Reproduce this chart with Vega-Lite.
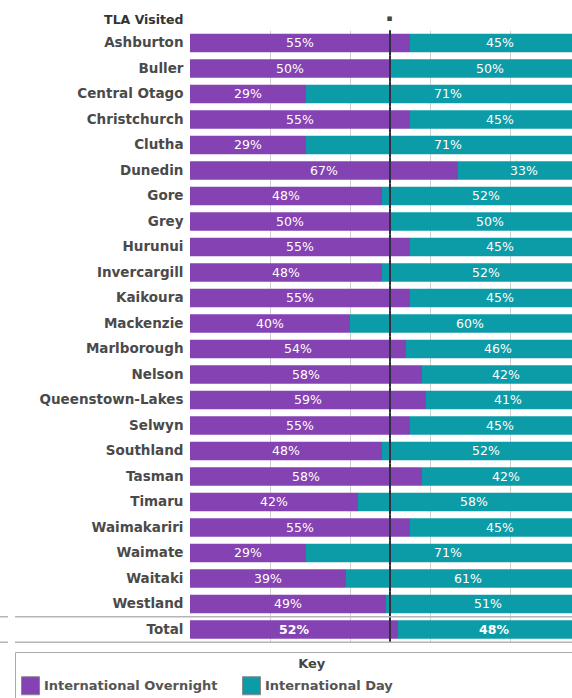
{
  "$schema": "https://vega.github.io/schema/vega-lite/v6.json",
  "autosize": "none",
  "width": 382,
  "height": 612,
  "padding": {"left": 190, "top": 30.25, "right": 0, "bottom": 55.75},
  "background": "white",
  "config": {
    "view": {"stroke": null},
    "font": "DejaVu Sans"
  },
  "data": {
    "values": [
      {"tla": "Ashburton", "type": "International Overnight", "ord": 1, "pct": 0.55},
      {"tla": "Ashburton", "type": "International Day", "ord": 2, "pct": 0.45},
      {"tla": "Buller", "type": "International Overnight", "ord": 1, "pct": 0.50},
      {"tla": "Buller", "type": "International Day", "ord": 2, "pct": 0.50},
      {"tla": "Central Otago", "type": "International Overnight", "ord": 1, "pct": 0.29},
      {"tla": "Central Otago", "type": "International Day", "ord": 2, "pct": 0.71},
      {"tla": "Christchurch", "type": "International Overnight", "ord": 1, "pct": 0.55},
      {"tla": "Christchurch", "type": "International Day", "ord": 2, "pct": 0.45},
      {"tla": "Clutha", "type": "International Overnight", "ord": 1, "pct": 0.29},
      {"tla": "Clutha", "type": "International Day", "ord": 2, "pct": 0.71},
      {"tla": "Dunedin", "type": "International Overnight", "ord": 1, "pct": 0.67},
      {"tla": "Dunedin", "type": "International Day", "ord": 2, "pct": 0.33},
      {"tla": "Gore", "type": "International Overnight", "ord": 1, "pct": 0.48},
      {"tla": "Gore", "type": "International Day", "ord": 2, "pct": 0.52},
      {"tla": "Grey", "type": "International Overnight", "ord": 1, "pct": 0.50},
      {"tla": "Grey", "type": "International Day", "ord": 2, "pct": 0.50},
      {"tla": "Hurunui", "type": "International Overnight", "ord": 1, "pct": 0.55},
      {"tla": "Hurunui", "type": "International Day", "ord": 2, "pct": 0.45},
      {"tla": "Invercargill", "type": "International Overnight", "ord": 1, "pct": 0.48},
      {"tla": "Invercargill", "type": "International Day", "ord": 2, "pct": 0.52},
      {"tla": "Kaikoura", "type": "International Overnight", "ord": 1, "pct": 0.55},
      {"tla": "Kaikoura", "type": "International Day", "ord": 2, "pct": 0.45},
      {"tla": "Mackenzie", "type": "International Overnight", "ord": 1, "pct": 0.40},
      {"tla": "Mackenzie", "type": "International Day", "ord": 2, "pct": 0.60},
      {"tla": "Marlborough", "type": "International Overnight", "ord": 1, "pct": 0.54},
      {"tla": "Marlborough", "type": "International Day", "ord": 2, "pct": 0.46},
      {"tla": "Nelson", "type": "International Overnight", "ord": 1, "pct": 0.58},
      {"tla": "Nelson", "type": "International Day", "ord": 2, "pct": 0.42},
      {"tla": "Queenstown-Lakes", "type": "International Overnight", "ord": 1, "pct": 0.59},
      {"tla": "Queenstown-Lakes", "type": "International Day", "ord": 2, "pct": 0.41},
      {"tla": "Selwyn", "type": "International Overnight", "ord": 1, "pct": 0.55},
      {"tla": "Selwyn", "type": "International Day", "ord": 2, "pct": 0.45},
      {"tla": "Southland", "type": "International Overnight", "ord": 1, "pct": 0.48},
      {"tla": "Southland", "type": "International Day", "ord": 2, "pct": 0.52},
      {"tla": "Tasman", "type": "International Overnight", "ord": 1, "pct": 0.58},
      {"tla": "Tasman", "type": "International Day", "ord": 2, "pct": 0.42},
      {"tla": "Timaru", "type": "International Overnight", "ord": 1, "pct": 0.42},
      {"tla": "Timaru", "type": "International Day", "ord": 2, "pct": 0.58},
      {"tla": "Waimakariri", "type": "International Overnight", "ord": 1, "pct": 0.55},
      {"tla": "Waimakariri", "type": "International Day", "ord": 2, "pct": 0.45},
      {"tla": "Waimate", "type": "International Overnight", "ord": 1, "pct": 0.29},
      {"tla": "Waimate", "type": "International Day", "ord": 2, "pct": 0.71},
      {"tla": "Waitaki", "type": "International Overnight", "ord": 1, "pct": 0.39},
      {"tla": "Waitaki", "type": "International Day", "ord": 2, "pct": 0.61},
      {"tla": "Westland", "type": "International Overnight", "ord": 1, "pct": 0.49},
      {"tla": "Westland", "type": "International Day", "ord": 2, "pct": 0.51},
      {"tla": "Total", "type": "International Overnight", "ord": 1, "pct": 0.52},
      {"tla": "Total", "type": "International Day", "ord": 2, "pct": 0.48}
    ]
  },
  "transform": [
    {"stack": "pct", "groupby": ["tla"], "sort": [{"field": "ord", "order": "ascending"}], "as": ["x0", "x1"]},
    {"calculate": "(datum.x0 + datum.x1) / 2", "as": "mid"}
  ],
  "encoding": {
    "y": {
      "field": "tla",
      "type": "nominal",
      "sort": null,
      "scale": {"paddingInner": 0, "paddingOuter": 0},
      "axis": {
        "title": "TLA Visited",
        "titleAngle": 0,
        "titleX": -7,
        "titleY": -11,
        "titleAlign": "right",
        "titleBaseline": "middle",
        "titleFontSize": 12.5,
        "titleFontWeight": "bold",
        "titleColor": "#333",
        "labelFontSize": 13.5,
        "labelFontWeight": "bold",
        "labelColor": "#4a4a4a",
        "labelPadding": 7,
        "labelLimit": 0,
        "ticks": false,
        "domain": false
      }
    }
  },
  "layer": [
    {
      "mark": {"type": "bar", "height": {"band": 0.73}, "clip": true},
      "encoding": {
        "x": {
          "field": "x0",
          "type": "quantitative",
          "scale": {"domain": [0, 0.955], "nice": false, "zero": false},
          "axis": {
            "orient": "top",
            "title": "▪",
            "titleFontSize": 9,
            "titleColor": "#444",
            "titlePadding": 8,
            "titleX": 199,
            "labels": false,
            "ticks": false,
            "domain": false,
            "grid": true,
            "gridColor": "#cfcfcf",
            "gridWidth": 1,
            "values": [0.2, 0.4, 0.6, 0.8]
          }
        },
        "x2": {"field": "x1"},
        "color": {
          "field": "type",
          "type": "nominal",
          "scale": {
            "domain": ["International Overnight", "International Day"],
            "range": ["#8442b2", "#0c9ca8"]
          },
          "legend": {
            "orient": "none",
            "legendX": -175,
            "legendY": 621.75,
            "direction": "horizontal",
            "title": "\u2800\u00a0\u00a0\u00a0\u00a0\u00a0\u00a0\u00a0\u00a0\u00a0\u00a0\u00a0\u00a0\u00a0\u00a0\u00a0\u00a0\u00a0\u00a0\u00a0\u00a0\u00a0\u00a0\u00a0\u00a0\u00a0\u00a0\u00a0\u00a0\u00a0\u00a0\u00a0\u00a0\u00a0\u00a0\u00a0\u00a0\u00a0\u00a0\u00a0\u00a0\u00a0\u00a0\u00a0\u00a0\u00a0\u00a0\u00a0\u00a0\u00a0\u00a0\u00a0\u00a0\u00a0\u00a0\u00a0\u00a0\u00a0\u00a0\u00a0Key",
            "titleAnchor": "start",
            "titleLimit": 0,
            "titleFontSize": 13,
            "titleFontWeight": "bold",
            "titleColor": "#444",
            "titlePadding": 5,
            "strokeColor": "#aaaaaa",
            "padding": 6,
            "symbolType": "square",
            "symbolSize": 324,
            "symbolStrokeColor": "#888888",
            "symbolStrokeWidth": 1,
            "symbolOpacity": 1,
            "labelFontSize": 13,
            "labelFontWeight": "bold",
            "labelColor": "#555",
            "labelOffset": 4,
            "labelLimit": 0,
            "columnPadding": 22,
            "labelExpr": "datum.value === 'International Day' ? datum.label + '\u00a0\u00a0\u00a0\u00a0\u00a0\u00a0\u00a0\u00a0\u00a0\u00a0\u00a0\u00a0\u00a0\u00a0\u00a0\u00a0\u00a0\u00a0\u00a0\u00a0\u00a0\u00a0\u00a0\u00a0\u00a0\u00a0\u00a0\u00a0\u00a0\u00a0\u00a0\u00a0\u00a0\u00a0\u00a0\u00a0\u00a0\u2800' : datum.label"
          }
        }
      }
    },
    {
      "transform": [{"filter": "datum.tla != 'Total'"}],
      "mark": {"type": "text", "color": "white", "fontSize": 12.5, "baseline": "middle", "align": "center"},
      "encoding": {
        "x": {"field": "mid", "type": "quantitative"},
        "text": {"field": "pct", "type": "quantitative", "format": ".0%"}
      }
    },
    {
      "transform": [{"filter": "datum.tla == 'Total'"}],
      "mark": {"type": "text", "color": "white", "fontSize": 12.5, "fontWeight": "bold", "baseline": "middle", "align": "center"},
      "encoding": {
        "x": {"field": "mid", "type": "quantitative"},
        "text": {"field": "pct", "type": "quantitative", "format": ".0%"}
      }
    },
    {
      "transform": [{"filter": "datum.ord == 1"}],
      "mark": {"type": "bar", "height": {"band": 1}, "color": "#2f2f3f"},
      "encoding": {
        "x": {"datum": 0.4975},
        "x2": {"datum": 0.5025}
      }
    },
    {
      "transform": [{"filter": "datum.tla == 'Total' && datum.ord == 1"}],
      "mark": {"type": "rule", "color": "#b5b5b5", "strokeWidth": 1.5},
      "encoding": {
        "x": {"datum": -0.4375},
        "x2": {"datum": 0.955},
        "y": {"field": "tla", "type": "nominal", "sort": null, "bandPosition": 0}
      }
    },
    {
      "transform": [{"filter": "datum.tla == 'Total' && datum.ord == 1"}],
      "mark": {"type": "rule", "color": "#b5b5b5", "strokeWidth": 1.5},
      "encoding": {
        "x": {"datum": -0.4375},
        "x2": {"datum": 0.955},
        "y": {"field": "tla", "type": "nominal", "sort": null, "bandPosition": 1}
      }
    },
    {
      "transform": [{"filter": "datum.tla == 'Total' && datum.ord == 1"}],
      "mark": {"type": "rule", "color": "#b5b5b5", "strokeWidth": 1.5},
      "encoding": {
        "x": {"datum": -0.475},
        "x2": {"datum": -0.455},
        "y": {"field": "tla", "type": "nominal", "sort": null, "bandPosition": 0}
      }
    },
    {
      "transform": [{"filter": "datum.tla == 'Total' && datum.ord == 1"}],
      "mark": {"type": "rule", "color": "#b5b5b5", "strokeWidth": 1.5},
      "encoding": {
        "x": {"datum": -0.475},
        "x2": {"datum": -0.455},
        "y": {"field": "tla", "type": "nominal", "sort": null, "bandPosition": 1}
      }
    }
  ]
}
